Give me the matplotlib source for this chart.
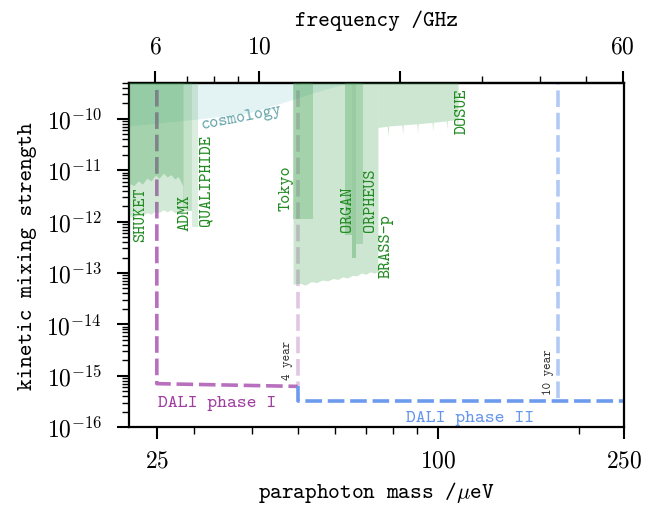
import numpy as np
import matplotlib
matplotlib.use('Agg')
import matplotlib.pyplot as plt
from matplotlib.ticker import LogLocator, NullFormatter

plt.rcParams['mathtext.fontset'] = 'cm'
plt.rcParams['font.family'] = 'cmtt10'
plt.rcParams['axes.unicode_minus'] = False

GHZ_PER_UEV = 0.2417989  # 1 micro-eV photon -> GHz

# --- data (paraphoton mass in micro-eV, kinetic mixing) ---
shuket_m = [21.8, 22.3, 22.8, 23.3, 23.8, 24.3, 24.8, 25.3, 25.8, 26.3, 26.8, 27.3, 27.8, 28.4]
shuket_hi = [5.6e-12, 5.0e-12, 6.2e-12, 5.4e-12, 7.0e-12, 6.2e-12, 8.0e-12, 7.0e-12,
             8.8e-12, 7.4e-12, 8.2e-12, 6.8e-12, 7.5e-12, 5.0e-12]
shuket_lo = [1.3e-12, 1.2e-12, 1.4e-12, 1.3e-12, 1.5e-12, 1.4e-12, 1.6e-12, 1.5e-12,
             1.7e-12, 1.55e-12, 1.7e-12, 1.5e-12, 1.6e-12, 1.3e-12]

admx_m = [28.4, 29.7]
admx_low = 1.6e-12
qualiphide_m = [29.7, 30.6]
qualiphide_low = 8.0e-13

tokyo_m = [48.9, 53.9]
tokyo_low = 1.1e-12

brass_m = [48.9, 50.5, 52.0, 53.5, 55.0, 56.5, 58.0, 59.5, 61.0, 62.5, 64.0, 65.5,
           67.0, 68.5, 70.0, 71.5, 73.0, 74.3]
brass_low = [6.0e-14, 6.3e-14, 5.8e-14, 6.8e-14, 6.5e-14, 7.3e-14, 7.0e-14, 7.8e-14,
             7.5e-14, 8.4e-14, 8.0e-14, 9.0e-14, 8.8e-14, 1.0e-13, 9.4e-14, 1.05e-13,
             1.0e-13, 1.05e-13]

organ_m = [63.2, 65.5]
organ_low = 5.5e-13
organ2_m = [65.5, 66.7]
organ2_low = 2.0e-13
orpheus_m = [66.7, 69.2]
orpheus_low = 3.7e-13

dosue_m = [74.3, 76.0, 77.8, 78.1, 78.4, 80.5, 82.0, 83.6, 83.9, 84.2, 86.5, 88.0,
           90.0, 90.3, 90.6, 92.5, 95.0, 97.0, 97.3, 97.6, 100.0, 102.0, 104.0, 104.3,
           104.6, 106.0, 108.0, 109.5, 109.8, 110.3]
dosue_low = [6.8e-11, 7.0e-11, 7.2e-11, 4.6e-11, 7.3e-11, 7.4e-11, 7.5e-11, 7.6e-11,
             5.0e-11, 7.7e-11, 7.8e-11, 7.9e-11, 8.0e-11, 5.2e-11, 8.1e-11, 8.2e-11,
             8.4e-11, 8.5e-11, 5.8e-11, 8.6e-11, 8.8e-11, 9.0e-11, 9.1e-11, 6.2e-11,
             9.2e-11, 9.4e-11, 9.6e-11, 9.8e-11, 7.0e-11, 1.0e-10]

cosmo_m = [21.8, 30.8, 39.4, 47.0, 55.7, 63.2, 70.0]
cosmo_low = [7.3e-11, 1.0e-10, 1.31e-10, 2.14e-10, 3.5e-10, 4.8e-10, 6.5e-10]

dali1_m = [25, 25, 50]
dali1_eps = [1e-9, 7.0e-16, 6.2e-16]
dali2_m = [50, 50, 250]
dali2_eps = [6.2e-16, 3.2e-16, 3.2e-16]
four_year_m = 50
ten_year_m = 180

TOP = 1e-9
green = '#3a9f4a'

fig = plt.figure(figsize=(6.55, 5.06), dpi=100)
ax = fig.add_axes([0.197, 0.154, 0.756, 0.680])
ax.set_xscale('log')
ax.set_yscale('log')

# cosmology
ax.fill_between(cosmo_m, cosmo_low, TOP, color='#a5dada', alpha=0.3, lw=0, zorder=1)

# DALI projections (drawn under the exclusion fills)
dash = (0, (4.6, 1.6))
lw = 2.6
ax.plot(dali1_m, dali1_eps, color='#a040a8', alpha=0.75, lw=lw, ls=dash, zorder=2)
ax.plot([four_year_m, four_year_m], [TOP, dali1_eps[-1]], color='#a040a8', alpha=0.3, lw=lw, ls=dash, zorder=2)
ax.plot(dali2_m, dali2_eps, color='#6495ED', alpha=0.95, lw=lw, ls=dash, zorder=2)
ax.plot([ten_year_m, ten_year_m], [TOP, dali2_eps[-1]], color='#6495ED', alpha=0.5, lw=lw, ls=dash, zorder=2)

# exclusions
def excl(m, low, a=0.25):
    if np.isscalar(low):
        low = [low] * len(m)
    ax.fill_between(m, low, TOP, color=green, alpha=a, lw=0, zorder=3)

excl(shuket_m, shuket_lo, 0.22)
excl(shuket_m, shuket_hi, 0.3)
excl(admx_m, admx_low, 0.3)
excl(qualiphide_m, qualiphide_low, 0.18)
excl(brass_m, brass_low, 0.25)
excl(tokyo_m, tokyo_low, 0.28)
excl(organ_m, organ_low, 0.3)
excl(organ2_m, organ2_low, 0.35)
excl(orpheus_m, orpheus_low, 0.25)
excl(dosue_m, dosue_low, 0.25)

ax.set_xlim(21.8, 250)
ax.set_ylim(1e-16, 5e-10)

# labels in the plot
lab = dict(color='forestgreen', fontsize=12.5, rotation=90, ha='center', va='center', zorder=5)
ax.text(23.1, 1.41e-12, 'SHUKET', **lab)
ax.text(28.7, 1.54e-12, 'ADMX', **lab)
ax.text(31.8, 6.5e-12, 'QUALIPHIDE', **lab)
ax.text(47.2, 4.7e-12, 'Tokyo', **lab)
ax.text(63.8, 1.85e-12, 'ORGAN', **lab)
ax.text(71.8, 2.76e-12, 'ORPHEUS', **lab)
ax.text(77.3, 3.5e-13, 'BRASS-p', **lab)
ax.text(112.4, 1.5e-10, 'DOSUE', **lab)
ax.text(38.0, 1.09e-10, 'cosmology', color='#64a5aa', fontsize=12.5, rotation=11,
        ha='center', va='center', zorder=5)

ax.text(47.7, 2.1e-15, '4 year', fontsize=9, rotation=90, ha='center', va='center', color='#333333')
ax.text(171.8, 1.23e-15, '10 year', fontsize=9, rotation=90, ha='center', va='center', color='#333333')
ax.text(33.6, 3.07e-16, 'DALI phase I', fontsize=13.5, color='#a03ca0', ha='center', va='center')
ax.text(116.9, 1.56e-16, 'DALI phase II', fontsize=13.5, color='#6495ED', ha='center', va='center')

# ticks
ax.set_xticks([25, 100, 250], labels=['$25$', '$100$', '$250$'])
ax.set_xticks([30, 40, 50, 60, 70, 80, 90, 200], minor=True)
ax.xaxis.set_minor_formatter(NullFormatter())
yt = [1e-16, 1e-15, 1e-14, 1e-13, 1e-12, 1e-11, 1e-10]
ax.set_yticks(yt, labels=[r'$10^{%d}$' % int(np.log10(v)) for v in yt])
ax.yaxis.set_minor_locator(LogLocator(base=10, subs=np.arange(2, 10), numticks=30))
ax.yaxis.set_minor_formatter(NullFormatter())
ax.tick_params(which='major', length=8.5, width=1.5, labelsize=17, pad=9)
ax.tick_params(axis='y', which='major', pad=11)
ax.tick_params(which='minor', length=5, width=1.0)
for s in ax.spines.values():
    s.set_linewidth(1.6)

secax = ax.secondary_xaxis('top', functions=(lambda m: m * GHZ_PER_UEV,
                                              lambda f: f / GHZ_PER_UEV))
secax.set_xticks([6, 10, 20, 60], labels=['$6$', '$10$', '', '$60$'])
secax.set_xticks([7, 8, 9, 30, 40, 50], minor=True)
secax.xaxis.set_minor_formatter(NullFormatter())
secax.tick_params(which='major', length=8.5, width=1.5, labelsize=17, pad=9)
secax.tick_params(which='minor', length=5, width=1.0)
secax.spines['top'].set_linewidth(1.6)

ax.set_xlabel(r'paraphoton mass /$\mu$eV', fontsize=16, labelpad=5)
ax.set_ylabel('kinetic mixing strength', fontsize=16, labelpad=7)
secax.set_xlabel('frequency /GHz', fontsize=16, labelpad=9)

fig.savefig('out.png', dpi=100)
